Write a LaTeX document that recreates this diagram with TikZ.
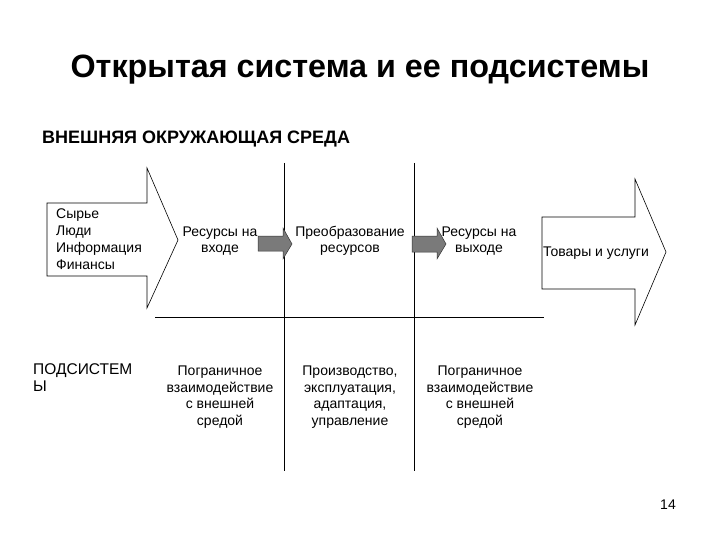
\documentclass[tikz,border=0pt]{standalone}
\usepackage{fontspec}
\setmainfont{Liberation Sans}
\begin{document}
\begin{tikzpicture}[x=1pt,y=-1pt,
  txt/.style={font=\fontsize{14}{16.5}\selectfont, align=center, inner sep=0pt},
  bigarrow/.style={draw, line width=0.6pt, fill=white},
  smallarrow/.style={draw=black!80, line width=0.5pt, fill=black!52}]
\useasboundingbox (0,0) rectangle (720,540);
\node[font=\bfseries\fontsize{32.3}{36}\selectfont, anchor=center] (title) at (360,70) {Открытая система и ее подсистемы};
\node[font=\bfseries\fontsize{18}{21}\selectfont, anchor=west, inner sep=0pt] (env) at (42,139) {ВНЕШНЯЯ ОКРУЖАЮЩАЯ СРЕДА};
% big arrows
\draw[bigarrow] (47,203) -- (147,203) -- (147,168) -- (178,240) -- (147,308) -- (147,276) -- (47,276) -- cycle;
\draw[bigarrow] (542,217) -- (635,217) -- (635,179) -- (666,252) -- (635,325) -- (635,289) -- (542,289) -- cycle;
% grid
\draw[line width=0.8pt] (155,317) -- (544,317);
\draw[line width=0.8pt] (284,163) -- (284,471);
\draw[line width=0.8pt] (414,163) -- (414,471);
% small arrows
\draw[smallarrow] (258,236) -- (283,236) -- (283,228) -- (292,244) -- (283,259) -- (283,251) -- (258,251) -- cycle;
\draw[smallarrow] (412,236) -- (437,236) -- (437,228) -- (446,244) -- (437,259) -- (437,252) -- (412,252) -- cycle;
% texts
\node[txt, align=left, anchor=center, font=\fontsize{14}{17}\selectfont] (inputs) at (99,239.5) {Сырье\\Люди\\Информация\\Финансы};
\node[txt] (resin) at (220,241) {Ресурсы на\\входе};
\node[txt] (transform) at (350,241) {Преобразование\\ресурсов};
\node[txt] (resout) at (479,241) {Ресурсы на\\выходе};
\node[txt] (goods) at (596,253) {Товары и услуги};
\node[txt, align=left, anchor=north west, font=\fontsize{15.5}{17}\selectfont] (sub) at (33,363) {ПОДСИСТЕМ\\Ы};
\node[txt] (border1) at (220,397) {Пограничное\\взаимодействие\\с внешней\\средой};
\node[txt] (prod) at (350,397) {Производство,\\эксплуатация,\\адаптация,\\управление};
\node[txt] (border2) at (480,397) {Пограничное\\взаимодействие\\с внешней\\средой};
\node[txt] (page) at (668,505) {14};
\end{tikzpicture}
\end{document}
